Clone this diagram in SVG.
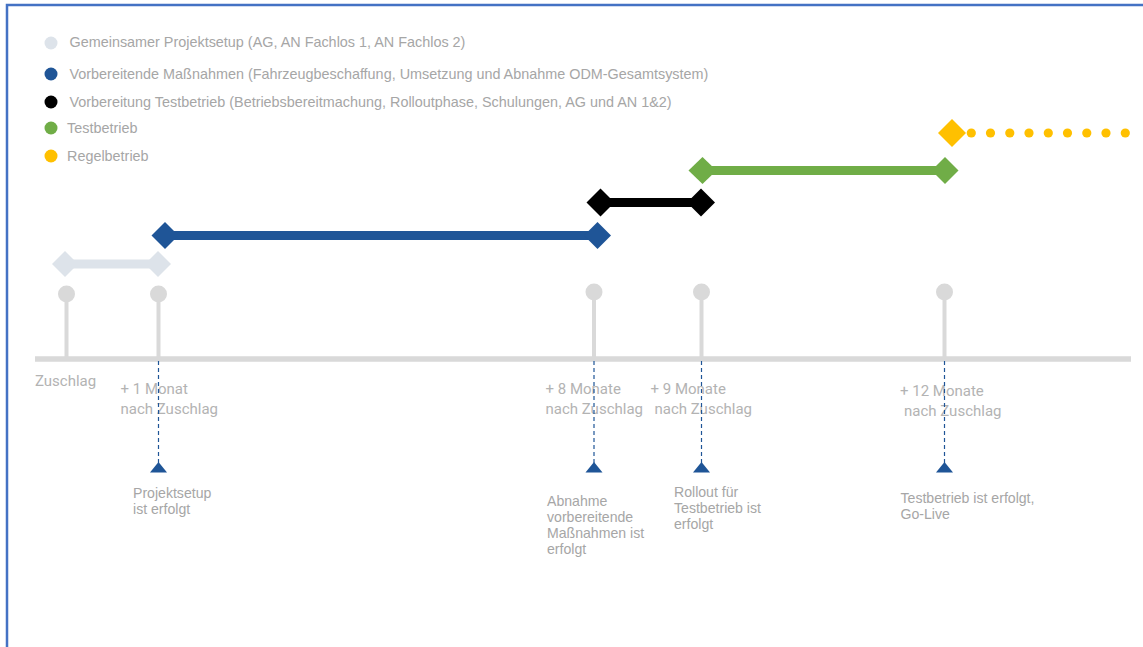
<svg xmlns="http://www.w3.org/2000/svg" width="1143" height="647" viewBox="0 0 1143 647">
<defs>
<style>
.leg{font-family:"Liberation Sans",Arial,sans-serif;font-size:14.4px;fill:#a6a6a6}
.ax{font-family:Roboto,"Liberation Sans",sans-serif;font-size:15px;fill:#b3b3b3}
.ms{font-family:"Liberation Sans",Arial,sans-serif;font-size:14.1px;fill:#a6a6a6}
.pin{fill:#d9d9d9}
.stem{stroke:#d9d9d9;stroke-width:4}
.dash{stroke:#1f5597;stroke-width:1.2;stroke-dasharray:4 3;fill:none}
.tri{fill:#1f5597}
</style>
</defs>
<rect x="0" y="0" width="1143" height="647" fill="#ffffff"/>
<g id="frame" fill="none" stroke="#4472c4" stroke-width="2.5">
<path d="M7 647 V5 H1143"/>
</g>
<g id="legend">
<circle cx="51" cy="43" r="6.5" fill="#dde3ea"/>
<text class="leg" x="69.5" y="47">Gemeinsamer Projektsetup (AG, AN Fachlos 1, AN Fachlos 2)</text>
<circle cx="51" cy="74" r="6.5" fill="#1f5597"/>
<text class="leg" x="69.5" y="79">Vorbereitende Maßnahmen (Fahrzeugbeschaffung, Umsetzung und Abnahme ODM-Gesamtsystem)</text>
<circle cx="51" cy="102" r="6.5" fill="#000000"/>
<text class="leg" x="69.5" y="107">Vorbereitung Testbetrieb (Betriebsbereitmachung, Rolloutphase, Schulungen, AG und AN 1&amp;2)</text>
<circle cx="51" cy="128" r="6.5" fill="#70ad47"/>
<text class="leg" x="67" y="133">Testbetrieb</text>
<circle cx="51" cy="156" r="6.5" fill="#ffc000"/>
<text class="leg" x="67" y="161">Regelbetrieb</text>
</g>
<g id="axis">
<line x1="35" y1="359" x2="1131" y2="359" stroke="#d9d9d9" stroke-width="5.5"/>
</g>
<g id="pins">
<line class="stem" x1="66.5" y1="294" x2="66.5" y2="359"/><circle class="pin" cx="66.5" cy="294" r="8.5"/>
<line class="stem" x1="158.5" y1="294" x2="158.5" y2="359"/><circle class="pin" cx="158.5" cy="294" r="8.5"/>
<line class="stem" x1="594" y1="292" x2="594" y2="359"/><circle class="pin" cx="594" cy="292" r="8.5"/>
<line class="stem" x1="701.5" y1="292" x2="701.5" y2="359"/><circle class="pin" cx="701.5" cy="292" r="8.5"/>
<line class="stem" x1="944.5" y1="292" x2="944.5" y2="359"/><circle class="pin" cx="944.5" cy="292" r="8.5"/>
</g>
<g id="bar-setup">
<line x1="65" y1="264" x2="158" y2="264" stroke="#dde3ea" stroke-width="9"/>
<polygon points="52,264 65,251 78,264 65,277" fill="#dde3ea"/>
<polygon points="145,264 158,251 171,264 158,277" fill="#dde3ea"/>
</g>
<g id="bar-prep">
<line x1="165" y1="235.5" x2="597" y2="235.5" stroke="#1f5597" stroke-width="9"/>
<polygon points="151.5,235.5 165,222 178.5,235.5 165,249" fill="#1f5597"/>
<polygon points="584,235.5 597.5,222 611,235.5 597.5,249" fill="#1f5597"/>
</g>
<g id="bar-testprep">
<line x1="600" y1="202.5" x2="701" y2="202.5" stroke="#000000" stroke-width="9"/>
<polygon points="586.5,202.5 600.5,188.5 614.5,202.5 600.5,216.5" fill="#000000"/>
<polygon points="687,202.5 701,188.5 715,202.5 701,216.5" fill="#000000"/>
</g>
<g id="bar-test">
<line x1="702" y1="170.5" x2="945" y2="170.5" stroke="#70ad47" stroke-width="9"/>
<polygon points="688.5,170.5 702.5,157 716.5,170.5 702.5,184" fill="#70ad47"/>
<polygon points="931.5,170.5 945,157 958.5,170.5 945,184" fill="#70ad47"/>
</g>
<g id="bar-regular" fill="#ffc000">
<polygon points="938,133 952,119 966,133 952,147"/>
<circle cx="971.3" cy="133" r="4.6"/>
<circle cx="990.5" cy="133" r="4.6"/>
<circle cx="1009.8" cy="133" r="4.6"/>
<circle cx="1029" cy="133" r="4.6"/>
<circle cx="1048.3" cy="133" r="4.6"/>
<circle cx="1067.5" cy="133" r="4.6"/>
<circle cx="1086.8" cy="133" r="4.6"/>
<circle cx="1106" cy="133" r="4.6"/>
<circle cx="1125.3" cy="133" r="4.6"/>
</g>
<g id="axis-labels">
<text class="ax" x="35" y="386">Zuschlag</text>
<text class="ax" x="120.5" y="394">+ 1 Monat</text>
<text class="ax" x="120.5" y="414">nach Zuschlag</text>
<text class="ax" x="545.5" y="394">+ 8 Monate</text>
<text class="ax" x="545.5" y="414">nach Zuschlag</text>
<text class="ax" x="650.5" y="394">+ 9 Monate</text>
<text class="ax" x="654.5" y="414">nach Zuschlag</text>
<text class="ax" x="900" y="396">+ 12 Monate</text>
<text class="ax" x="904" y="416">nach Zuschlag</text>
</g>
<g id="connectors">
<line class="dash" x1="158.5" y1="361" x2="158.5" y2="463"/>
<line class="dash" x1="594" y1="361" x2="594" y2="463"/>
<line class="dash" x1="701.5" y1="361" x2="701.5" y2="463"/>
<line class="dash" x1="944.5" y1="361" x2="944.5" y2="463"/>
<polygon class="tri" points="158.5,462 167,472.5 150,472.5"/>
<polygon class="tri" points="594,462 602.5,472.5 585.5,472.5"/>
<polygon class="tri" points="701.5,462 710,472.5 693,472.5"/>
<polygon class="tri" points="944.5,462 953,472.5 936,472.5"/>
</g>
<g id="milestone-labels">
<text class="ms" x="133" y="498">Projektsetup</text>
<text class="ms" x="133" y="514">ist erfolgt</text>
<text class="ms" x="547" y="505.5">Abnahme</text>
<text class="ms" x="547" y="521.5">vorbereitende</text>
<text class="ms" x="547" y="537.5">Maßnahmen ist</text>
<text class="ms" x="547" y="553.5">erfolgt</text>
<text class="ms" x="674" y="497">Rollout für</text>
<text class="ms" x="674" y="513">Testbetrieb ist</text>
<text class="ms" x="674" y="529">erfolgt</text>
<text class="ms" x="900.5" y="503">Testbetrieb ist erfolgt,</text>
<text class="ms" x="900.5" y="519">Go-Live</text>
</g>
</svg>
